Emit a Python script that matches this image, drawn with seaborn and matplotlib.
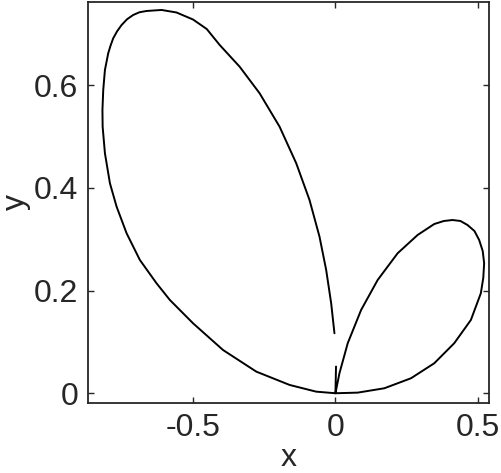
import matplotlib
matplotlib.use("Agg")
import matplotlib.pyplot as plt
import seaborn as sns
import pandas as pd

# Curve points, in drawing order
x_vals = [-0.0035, -0.0150, -0.0325, -0.0559, -0.0909, -0.1374, -0.1958, -0.2657, -0.3357,
          -0.4056, -0.4510, -0.4990, -0.5570, -0.6094, -0.6619, -0.6870, -0.7087, -0.7300,
          -0.7493, -0.7650, -0.7787, -0.7880, -0.7962, -0.8077, -0.8136, -0.8164, -0.8157,
          -0.8077, -0.7902, -0.7668, -0.7318, -0.6853, -0.6269, -0.5804, -0.4990, -0.3941,
          -0.2773, -0.1608, -0.0675, 0.0,
          0.0140, 0.0430, 0.0899, 0.1479, 0.2178, 0.2878, 0.3462, 0.3800, 0.4101, 0.4380,
          0.4626, 0.4870, 0.5035, 0.5160, 0.5210, 0.5180, 0.5094, 0.4745, 0.4161, 0.3462,
          0.2647, 0.1713, 0.0780, 0.0, 0.002]
y_vals = [0.1168, 0.1753, 0.2401, 0.3050, 0.3764, 0.4479, 0.5192, 0.5842, 0.6360,
          0.6783, 0.7094, 0.7279, 0.7416, 0.7465, 0.7445, 0.7420, 0.7367, 0.7285,
          0.7172, 0.7050, 0.6913, 0.6770, 0.6621, 0.6296, 0.5907, 0.5517, 0.5192,
          0.4674, 0.4090, 0.3634, 0.3116, 0.2596, 0.2142, 0.1818, 0.1363, 0.0843,
          0.0421, 0.0162, 0.0031, 0.0,
          0.0389, 0.0974, 0.1622, 0.2206, 0.2726, 0.3082, 0.3296, 0.3355, 0.3374, 0.3355,
          0.3277, 0.3160, 0.2985, 0.2770, 0.2532, 0.2250, 0.1947, 0.1427, 0.0974, 0.0584,
          0.0292, 0.0097, 0.0012, 0.0, 0.052]

x_ticks = [-0.5, 0, 0.5]
x_tick_labels = ["-0.5", "0", "0.5"]
y_ticks = [0, 0.2, 0.4, 0.6]
y_tick_labels = ["0", "0.2", "0.4", "0.6"]

sns.set_style("ticks")
plt.rcParams["font.family"] = ["Liberation Sans", "DejaVu Sans"]
plt.rcParams["axes.unicode_minus"] = False

fig = plt.figure(figsize=(5.02, 4.73), dpi=100)
ax = fig.add_axes([88 / 502, (473 - 403) / 473, (489 - 88) / 502, (403 - 2) / 473])

df = pd.DataFrame({"x": x_vals, "y": y_vals})
sns.lineplot(data=df, x="x", y="y", sort=False, estimator=None, color="black",
             linewidth=1.4, ax=ax)

ax.set_xlim(-0.867, 0.538)
ax.set_ylim(-0.019, 0.762)
ax.set_xticks(x_ticks)
ax.set_xticklabels(x_tick_labels)
ax.set_yticks(y_ticks)
ax.set_yticklabels(y_tick_labels)
for s in ax.spines.values():
    s.set_visible(True)
    s.set_color("#262626")
    s.set_linewidth(1.3)
ax.tick_params(direction="in", length=4, width=1.0, colors="#262626",
               labelsize=23, top=True, right=True, labelcolor="#262626", pad=7)
ax.set_xlabel("x", fontsize=23, color="#262626", labelpad=0)
ax.set_ylabel("y", fontsize=23, color="#262626", labelpad=2)

fig.savefig("out.png", dpi=100)
